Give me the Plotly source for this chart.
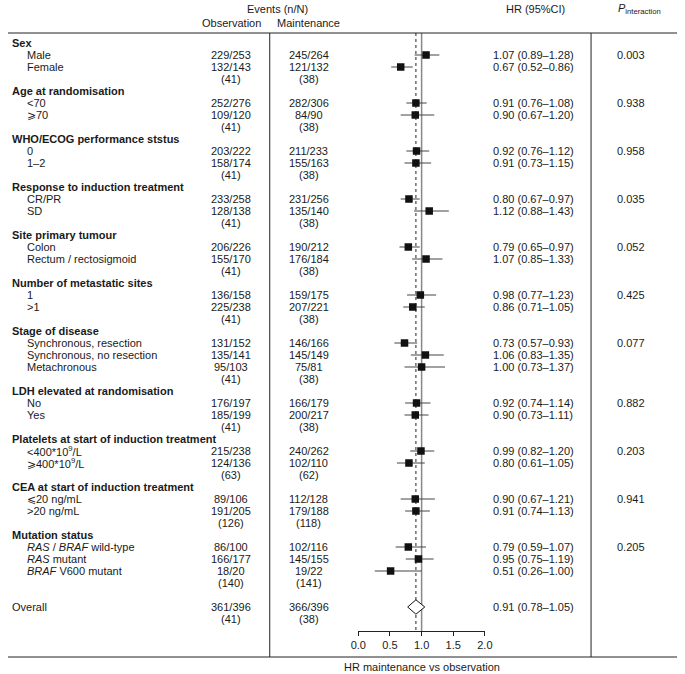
import plotly.graph_objects as go

W, H = 685, 674

groups = ["Sex", "Age at randomisation", "WHO/ECOG performance ststus",
          "Response to induction treatment", "Site primary tumour",
          "Number of metastatic sites", "Stage of disease",
          "LDH elevated at randomisation", "Platelets at start of induction treatment",
          "CEA at start of induction treatment", "Mutation status"]
subgroups = [["Male", "Female"], ["<70", "⩾70"], ["0", "1–2"], ["CR/PR", "SD"],
             ["Colon", "Rectum / rectosigmoid"], ["1", ">1"],
             ["Synchronous, resection", "Synchronous, no resection", "Metachronous"],
             ["No", "Yes"], ["<400*10<sup>9</sup>/L", "⩾400*10<sup>9</sup>/L"],
             ["⩽20 ng/mL", ">20 ng/mL"],
             ["<i>RAS</i> / <i>BRAF</i> wild-type", "<i>RAS</i> mutant", "<i>BRAF</i> V600 mutant"]]
obs_events = [["229/253", "132/143"], ["252/276", "109/120"], ["203/222", "158/174"],
              ["233/258", "128/138"], ["206/226", "155/170"], ["136/158", "225/238"],
              ["131/152", "135/141", "95/103"], ["176/197", "185/199"],
              ["215/238", "124/136"], ["89/106", "191/205"], ["86/100", "166/177", "18/20"]]
maint_events = [["245/264", "121/132"], ["282/306", "84/90"], ["211/233", "155/163"],
                ["231/256", "135/140"], ["190/212", "176/184"], ["159/175", "207/221"],
                ["146/166", "145/149", "75/81"], ["166/179", "200/217"],
                ["240/262", "102/110"], ["112/128", "179/188"], ["102/116", "145/155", "19/22"]]
hr = [[1.07, 0.67], [0.91, 0.90], [0.92, 0.91], [0.80, 1.12], [0.79, 1.07], [0.98, 0.86],
      [0.73, 1.06, 1.00], [0.92, 0.90], [0.99, 0.80], [0.90, 0.91], [0.79, 0.95, 0.51]]
ci_low = [[0.89, 0.52], [0.76, 0.67], [0.76, 0.73], [0.67, 0.88], [0.65, 0.85], [0.77, 0.71],
          [0.57, 0.83, 0.73], [0.74, 0.73], [0.82, 0.61], [0.67, 0.74], [0.59, 0.75, 0.26]]
ci_high = [[1.28, 0.86], [1.08, 1.20], [1.12, 1.15], [0.97, 1.43], [0.97, 1.33], [1.23, 1.05],
           [0.93, 1.35, 1.37], [1.14, 1.11], [1.20, 1.05], [1.21, 1.13], [1.07, 1.19, 1.00]]
p_interaction = ["0.003", "0.938", "0.958", "0.035", "0.052", "0.425", "0.077",
                 "0.882", "0.203", "0.941", "0.205"]
obs_missing = ["(41)"] * 8 + ["(63)", "(126)", "(140)"]
maint_missing = ["(38)"] * 8 + ["(62)", "(118)", "(141)"]

overall_obs, overall_maint = "361/396", "366/396"
overall_hr, overall_lo, overall_hi = 0.91, 0.78, 1.05
overall_obs_missing, overall_maint_missing = "(41)", "(38)"
x_ticks = [0.0, 0.5, 1.0, 1.5, 2.0]

# layout helpers (pixel -> paper)
ROW0, STEP = 43, 12
def px(x):
    return x / W
def py(y):
    return 1 - y / H

FONT = "Liberation Sans, Arial, Helvetica, sans-serif"
TC = "#1a1a1a"
FS = 11
X_LABEL, X_SUB, X_OBS, X_MAINT, X_HR, X_P = 2, 17, 228, 308, 538, 638

ann = []
def txt(x, y, s, anchor="left", size=FS, yref="y"):
    ann.append(dict(x=px(x), y=y, xref="paper", yref=yref, text=s, showarrow=False,
                    xanchor=anchor, yanchor="middle",
                    font=dict(family=FONT, size=size, color=TC)))

ci_x, ci_y, mk_x, mk_y = [], [], [], []
row = 0
for g in range(len(groups)):
    txt(X_LABEL, row, "<b>" + groups[g] + "</b>")
    row += 1
    for k in range(len(subgroups[g])):
        txt(X_SUB, row, subgroups[g][k])
        txt(X_OBS, row, obs_events[g][k], "center")
        txt(X_MAINT, row, maint_events[g][k], "center")
        txt(X_HR, row, f"{hr[g][k]:.2f} ({ci_low[g][k]:.2f}–{ci_high[g][k]:.2f})", "center")
        if k == 0:
            txt(X_P, row, p_interaction[g], "center")
        ci_x += [ci_low[g][k], ci_high[g][k], None]
        ci_y += [row, row, None]
        mk_x.append(hr[g][k])
        mk_y.append(row)
        row += 1
    txt(X_OBS, row, obs_missing[g], "center")
    txt(X_MAINT, row, maint_missing[g], "center")
    row += 1

row += 1
txt(X_LABEL, row, "Overall")
txt(X_OBS, row, overall_obs, "center")
txt(X_MAINT, row, overall_maint, "center")
txt(X_HR, row, f"{overall_hr:.2f} ({overall_lo:.2f}–{overall_hi:.2f})", "center")
overall_row = row
txt(X_OBS, row + 1, overall_obs_missing, "center")
txt(X_MAINT, row + 1, overall_maint_missing, "center")

# header texts (paper y)
txt(276, py(9), "Events (n/N)", "center", yref="paper")
txt(229, py(23), "Observation", "center", yref="paper")
txt(308, py(23), "Maintenance", "center", yref="paper")
txt(540, py(9), "HR (95%CI)", "center", yref="paper")
txt(647, py(9), "<i>P</i><sub>interaction</sub>", "center", yref="paper")
txt(424, py(667), "HR maintenance vs observation", "center", yref="paper")

fig = go.Figure()
fig.add_trace(go.Scatter(x=ci_x, y=ci_y, mode="lines", line=dict(color="#444", width=1),
                         hoverinfo="skip", showlegend=False))
fig.add_trace(go.Scatter(x=mk_x, y=mk_y, mode="markers",
                         marker=dict(symbol="square", size=7.5, color="#111"),
                         showlegend=False))
dh = 0.6
fig.add_trace(go.Scatter(x=[overall_lo, overall_hr, overall_hi, overall_hr, overall_lo],
                         y=[overall_row, overall_row - dh, overall_row, overall_row + dh, overall_row],
                         mode="lines", fill="toself", fillcolor="white",
                         line=dict(color="#111", width=1), showlegend=False))

AXIS_Y = 631
TOP_Y, BOT_Y = 33, 657
shapes = [
    dict(type="line", xref="paper", yref="paper", x0=0, x1=1, y0=py(TOP_Y), y1=py(TOP_Y),
         line=dict(color="#222", width=1)),
    dict(type="line", xref="paper", yref="paper", x0=0, x1=1, y0=py(BOT_Y), y1=py(BOT_Y),
         line=dict(color="#222", width=1)),
    dict(type="line", xref="paper", yref="paper", x0=px(268), x1=px(268), y0=py(TOP_Y), y1=py(BOT_Y),
         line=dict(color="#222", width=1)),
    dict(type="line", xref="paper", yref="paper", x0=px(597), x1=px(597), y0=py(TOP_Y), y1=py(BOT_Y),
         line=dict(color="#222", width=1)),
    dict(type="line", xref="x", yref="paper", x0=1.0, x1=1.0, y0=py(TOP_Y), y1=py(AXIS_Y),
         line=dict(color="#888", width=1.5), layer="below"),
    dict(type="line", xref="x", yref="paper", x0=overall_hr, x1=overall_hr, y0=py(TOP_Y), y1=py(AXIS_Y),
         line=dict(color="#222", width=1, dash="3px,3px"), layer="below"),
]

fig.update_layout(
    width=W, height=H, margin=dict(l=0, r=0, t=0, b=0),
    paper_bgcolor="white", plot_bgcolor="white",
    showlegend=False, annotations=ann, shapes=shapes,
    xaxis=dict(domain=[358.7 / W, 488.3 / W], range=[0, 2], anchor="free", position=py(AXIS_Y),
               tickvals=x_ticks, ticktext=[f"{v:.1f}" for v in x_ticks],
               showline=True, linecolor="#222", linewidth=1, ticks="outside", ticklen=4,
               tickcolor="#222", showgrid=False, zeroline=False,
               tickfont=dict(family=FONT, size=FS, color=TC)),
    yaxis=dict(domain=[0, 1], range=[(H - ROW0) / STEP, -ROW0 / STEP], visible=False,
               showgrid=False, zeroline=False),
)
fig.write_html("out.html", config={"displayModeBar": False},
               post_script="document.body.style.margin='0';document.body.style.overflow='hidden';")
